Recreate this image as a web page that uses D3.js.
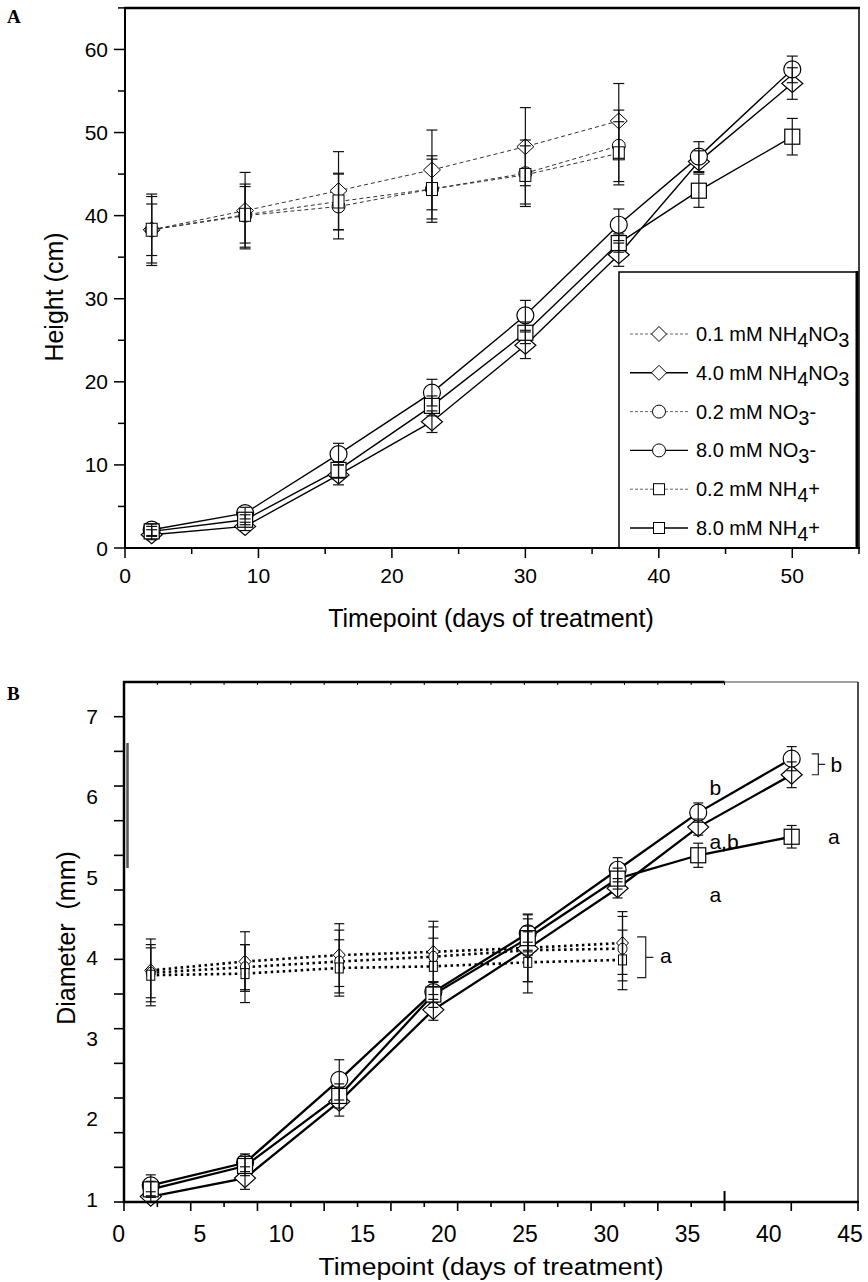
<!DOCTYPE html>
<html><head><meta charset="utf-8">
<script src="https://cdn.jsdelivr.net/npm/d3@7/dist/d3.min.js"></script>
<style>body{margin:0;background:#fff}svg{display:block}text{font-family:"Liberation Sans",Arial,sans-serif;fill:#000}</style>
</head><body><svg id="c" width="868" height="1282"></svg>
<script>
// ---------- DATA ----------
// Panel A: height (cm)
const daysA = [2, 9, 16, 23, 30, 37, 43, 50];
const daysALow = [2, 9, 16, 23, 30, 37];
const hLowNH4NO3 = [38.3, 40.6, 43.0, 45.5, 48.3, 51.4];
const hLowNH4NO3Err = [4.3, 4.6, 4.7, 4.8, 4.7, 4.5];
const hLowNO3 = [38.3, 40.0, 41.1, 43.2, 45.1, 48.4];
const hLowNO3Err = [4.0, 3.8, 3.9, 4.0, 4.0, 4.3];
const hLowNH4 = [38.3, 40.1, 41.7, 43.2, 44.9, 47.5];
const hLowNH4Err = [3.1, 3.4, 3.4, 3.6, 3.5, 3.8];
const hHighNH4NO3 = [1.6, 2.6, 8.8, 15.2, 24.4, 35.3, 46.5, 55.9];
const hHighNH4NO3Err = [0.6, 0.5, 1.2, 1.3, 1.6, 1.4, 1.3, 1.9];
const hHighNO3 = [2.2, 4.2, 11.3, 18.7, 28.0, 38.9, 47.1, 57.6];
const hHighNO3Err = [0.7, 0.7, 1.3, 1.6, 1.8, 1.9, 1.8, 1.6];
const hHighNH4 = [2.0, 3.4, 9.4, 17.1, 25.9, 36.7, 43.0, 49.5];
const hHighNH4Err = [0.6, 0.6, 1.0, 1.2, 1.3, 1.1, 2.0, 2.2];

// Panel B: diameter (mm)
const daysBLow = [1.97, 7.77, 13.57, 19.36, 25.17, 31.0];
const daysBHigh = [1.97, 7.77, 13.57, 19.36, 25.17, 30.7, 35.66, 41.41];
const dLowNH4NO3 = [3.84, 3.95, 4.03, 4.07, 4.12, 4.18];
const dLowNH4NO3Err = [0.39, 0.37, 0.39, 0.38, 0.42, 0.39];
const dLowNO3 = [3.81, 3.88, 3.95, 4.01, 4.09, 4.11];
const dLowNO3Err = [0.31, 0.28, 0.39, 0.37, 0.39, 0.40];
const dLowNH4 = [3.78, 3.80, 3.87, 3.89, 3.94, 3.97];
const dLowNH4Err = [0.38, 0.36, 0.35, 0.35, 0.38, 0.37];
const dHighNH4NO3 = [1.03, 1.26, 2.21, 3.35, 4.11, 4.86, 5.62, 6.27];
const dHighNH4NO3Err = [0.06, 0.14, 0.18, 0.13, 0.08, 0.12, 0.10, 0.16];
const dHighNO3 = [1.17, 1.45, 2.48, 3.57, 4.30, 5.09, 5.80, 6.47];
const dHighNO3Err = [0.13, 0.11, 0.25, 0.13, 0.23, 0.15, 0.12, 0.15];
const dHighNH4 = [1.12, 1.41, 2.28, 3.54, 4.24, 4.98, 5.27, 5.50];
const dHighNH4Err = [0.10, 0.12, 0.15, 0.16, 0.15, 0.13, 0.15, 0.14];

// Tick labels
const xTicksA = [0, 10, 20, 30, 40, 50];
const yTicksA = [0, 10, 20, 30, 40, 50, 60];
const xTicksB = [0, 5, 10, 15, 20, 25, 30, 35, 40, 45];
const yTicksB = [1, 2, 3, 4, 5, 6, 7];

// Legend labels: [text, isSubscript]
const legendLabels = [
  [["0.1 mM NH",0],["4",1],["NO",0],["3",1]],
  [["4.0 mM NH",0],["4",1],["NO",0],["3",1]],
  [["0.2 mM NO",0],["3",1],["-",0]],
  [["8.0 mM NO",0],["3",1],["-",0]],
  [["0.2 mM NH",0],["4",1],["+",0]],
  [["8.0 mM NH",0],["4",1],["+",0]]
];
const legendShapes = ["diamond","diamond","circle","circle","square","square"];
const legendDashed = [true,false,true,false,true,false];

// Significance letters in panel B (day, value)
const lettersB = [
  {t:"b", d:36.35, v:6.11},
  {t:"a,b", d:36.35, v:5.44},
  {t:"a", d:36.35, v:4.78},
  {t:"a", d:43.65, v:5.50},
  {t:"b", d:43.8, v:6.40},
  {t:"a", d:33.3, v:4.02}
];
const bracketsB = [
  {d0:42.64, d1:43.05, v0:6.53, v1:6.27, dt:43.47},
  {d0:31.9, d1:32.43, v0:4.255, v1:3.75, dt:32.9}
];

// ---------- DRAW ----------
const svg = d3.select("#c");
svg.append("rect").attr("width",868).attr("height",1282).attr("fill","#fff");

function marker(g, shape, cx, cy, w, h, sw){
  if(shape==="circle"){
    g.append("ellipse").attr("cx",cx).attr("cy",cy).attr("rx",w/2).attr("ry",h/2)
      .attr("fill","#fff").attr("stroke","#000").attr("stroke-width",sw);
  } else if(shape==="diamond"){
    g.append("path").attr("d",`M${cx},${cy-h/2}L${cx+w/2},${cy}L${cx},${cy+h/2}L${cx-w/2},${cy}Z`)
      .attr("fill","#fff").attr("stroke","#000").attr("stroke-width",sw);
  } else {
    g.append("rect").attr("x",cx-w/2).attr("y",cy-h/2).attr("width",w).attr("height",h)
      .attr("fill","#fff").attr("stroke","#000").attr("stroke-width",sw);
  }
}

function drawSeries(g, x, y, days, vals, errs, st){
  const line = d3.line().x((d,i)=>x(days[i])).y(d=>y(d));
  g.append("path").attr("d",line(vals)).attr("fill","none")
    .attr("stroke",st.color).attr("stroke-width",st.lw)
    .attr("stroke-dasharray",st.dash||null);
  return () => {
    vals.forEach((v,i)=>{
      marker(g, st.shape, x(days[i]), y(v), st.w, st.h, st.msw);
    });
  };
}
function drawErr(g, x, y, days, vals, errs, capW, color){
  vals.forEach((v,i)=>{
    const cx = x(days[i]);
    g.append("line").attr("x1",cx).attr("x2",cx).attr("y1",y(v-errs[i])).attr("y2",y(v+errs[i]))
      .attr("stroke",color).attr("stroke-width",1.2);
    [v-errs[i], v+errs[i]].forEach(e=>{
      g.append("line").attr("x1",cx-capW/2).attr("x2",cx+capW/2).attr("y1",y(e)).attr("y2",y(e))
        .attr("stroke",color).attr("stroke-width",1.2);
    });
  });
}

// ===== Panel A =====
const xA = d3.scaleLinear().domain([0,55]).range([125,859]);
const yA = d3.scaleLinear().domain([0,65]).range([548,7.9]);
const gA = svg.append("g");

// frame
gA.append("line").attr("x1",124).attr("x2",860).attr("y1",yA(65)).attr("y2",yA(65)).attr("stroke","#000").attr("stroke-width",2.5);
gA.append("line").attr("x1",xA(55)).attr("x2",xA(55)).attr("y1",yA(65)).attr("y2",yA(0)).attr("stroke","#000").attr("stroke-width",1.5);

// data
const seriesA = [
  {days:daysALow, v:hLowNH4NO3, e:hLowNH4NO3Err, st:{shape:"diamond",w:17,h:16,color:"#333",lw:1,dash:"4,3",msw:1}},
  {days:daysALow, v:hLowNO3, e:hLowNO3Err, st:{shape:"circle",w:13,h:13,color:"#333",lw:1,dash:"4,3",msw:1}},
  {days:daysALow, v:hLowNH4, e:hLowNH4Err, st:{shape:"square",w:11,h:13,color:"#333",lw:1,dash:"4,3",msw:1}},
  {days:daysA, v:hHighNH4NO3, e:hHighNH4NO3Err, st:{shape:"diamond",w:21,h:18,color:"#000",lw:1.4,msw:1.2}},
  {days:daysA, v:hHighNO3, e:hHighNO3Err, st:{shape:"circle",w:17,h:17,color:"#000",lw:1.4,msw:1.2}},
  {days:daysA, v:hHighNH4, e:hHighNH4Err, st:{shape:"square",w:15,h:15,color:"#000",lw:1.4,msw:1.2}}
];
const mkA = seriesA.map(s=>drawSeries(gA, xA, yA, s.days, s.v, s.e, s.st));
mkA.forEach(f=>f());
seriesA.forEach(s=>drawErr(gA, xA, yA, s.days, s.v, s.e, 11, "#111"));

// legend
const lg = gA.append("g");
lg.append("rect").attr("x",619).attr("y",272).attr("width",238).attr("height",276)
  .attr("fill","#fff").attr("stroke","#000").attr("stroke-width",1.5);
lg.append("line").attr("x1",857).attr("x2",857).attr("y1",271).attr("y2",548).attr("stroke","#000").attr("stroke-width",3);
const legY = d3.scaleLinear().domain([0,5]).range([334,528]);
legendLabels.forEach((parts,i)=>{
  const cy = legY(i);
  lg.append("line").attr("x1",630).attr("x2",688).attr("y1",cy).attr("y2",cy)
    .attr("stroke",legendDashed[i]?"#666":"#000").attr("stroke-width",legendDashed[i]?1:1.4)
    .attr("stroke-dasharray",legendDashed[i]?"3,2":null);
  const sh = legendShapes[i];
  const sz = sh==="diamond"?[15,15]:sh==="circle"?[13,13]:[11,11];
  marker(lg, sh, 659, cy, sz[0], sz[1], 1);
  const t = lg.append("text").attr("x",696).attr("y",cy+7).attr("font-size",20);
  parts.forEach(p=>{
    if(p[1]) t.append("tspan").attr("font-size",20).attr("dy",6).text(p[0]);
    else {
      const ts = t.append("tspan").text(p[0]);
      if(t.selectAll("tspan").size()>1) ts.attr("dy",-6);
    }
  });
});

// axes A
gA.append("line").attr("x1",xA(0)).attr("x2",xA(0)).attr("y1",yA(65)-1).attr("y2",yA(0)+1).attr("stroke","#000").attr("stroke-width",2);
gA.append("line").attr("x1",xA(0)-1).attr("x2",xA(55)+1).attr("y1",yA(0)).attr("y2",yA(0)).attr("stroke","#000").attr("stroke-width",2);
d3.range(0,66,5).forEach(v=>{
  const maj = v%10===0;
  gA.append("line").attr("x1",xA(0)).attr("x2",xA(0)-(maj?11:7)).attr("y1",yA(v)).attr("y2",yA(v)).attr("stroke","#000").attr("stroke-width",1.5);
});
d3.range(0,56,5).forEach(v=>{
  const maj = v%10===0;
  gA.append("line").attr("x1",xA(v)).attr("x2",xA(v)).attr("y1",yA(0)).attr("y2",yA(0)+(maj?10:6)).attr("stroke","#000").attr("stroke-width",1.5);
});
yTicksA.forEach(v=>{
  gA.append("text").attr("x",108).attr("y",yA(v)).attr("dy","0.36em").attr("text-anchor","end").attr("font-size",21).text(v);
});
xTicksA.forEach(v=>{
  gA.append("text").attr("x",xA(v)).attr("y",583).attr("text-anchor","middle").attr("font-size",21).text(v);
});
gA.append("text").attr("x",491).attr("y",627).attr("text-anchor","middle").attr("font-size",25).text("Timepoint (days of treatment)");
gA.append("text").attr("transform","translate(63,297) rotate(-90)").attr("text-anchor","middle").attr("font-size",25).text("Height (cm)");
svg.append("text").attr("x",7).attr("y",23).attr("font-size",19).attr("font-weight","bold")
  .style("font-family","'Liberation Serif','Times New Roman',serif").text("A");

// ===== Panel B =====
const xB = d3.scaleLinear().domain([0,45]).range([118.75,850]);   // label/data scale
const yB = d3.scaleLinear().domain([1,7]).range([1199,716]);
const xBt = d3.scaleLinear().domain([0,55]).range([124,858]);     // tick scale
const yBt = d3.scaleLinear().domain([0,7]).range([1202,716.7]);
const gB = svg.append("g");

// frame
gB.append("line").attr("x1",123).attr("x2",xBt(45)).attr("y1",682).attr("y2",682).attr("stroke","#000").attr("stroke-width",2.5);
gB.append("line").attr("x1",xBt(45)).attr("x2",xBt(55)).attr("y1",682).attr("y2",682).attr("stroke","#444").attr("stroke-width",1.2);
gB.append("line").attr("x1",xBt(55)).attr("x2",xBt(55)).attr("y1",682).attr("y2",1202).attr("stroke","#222").attr("stroke-width",1.6);
d3.range(2.5,45.1,2.5).forEach(v=>{
  gB.append("line").attr("x1",xBt(v)).attr("x2",xBt(v)).attr("y1",682).attr("y2",685).attr("stroke","#000").attr("stroke-width",1);
});
gB.append("line").attr("x1",127.5).attr("x2",127.5).attr("y1",743).attr("y2",868).attr("stroke","#555").attr("stroke-width",2.5);

const seriesB = [
  {days:daysBLow, v:dLowNH4NO3, e:dLowNH4NO3Err, st:{shape:"diamond",w:12,h:13,color:"#000",lw:2.6,dash:"2.5,3.5",msw:1}},
  {days:daysBLow, v:dLowNO3, e:dLowNO3Err, st:{shape:"circle",w:9,h:11,color:"#000",lw:2.6,dash:"2.5,3.5",msw:1}},
  {days:daysBLow, v:dLowNH4, e:dLowNH4Err, st:{shape:"square",w:8,h:10,color:"#000",lw:2.6,dash:"2.5,3.5",msw:1}},
  {days:daysBHigh, v:dHighNH4NO3, e:dHighNH4NO3Err, st:{shape:"diamond",w:21,h:19,color:"#000",lw:2.3,msw:1.2}},
  {days:daysBHigh, v:dHighNO3, e:dHighNO3Err, st:{shape:"circle",w:17,h:17,color:"#000",lw:2.3,msw:1.2}},
  {days:daysBHigh, v:dHighNH4, e:dHighNH4Err, st:{shape:"square",w:15,h:15,color:"#000",lw:2.3,msw:1.2}}
];
const mkB = seriesB.map(s=>drawSeries(gB, xB, yB, s.days, s.v, s.e, s.st));
mkB.forEach(f=>f());
seriesB.forEach(s=>drawErr(gB, xB, yB, s.days, s.v, s.e, 10, "#111"));

// axes B
gB.append("line").attr("x1",124).attr("x2",124).attr("y1",681).attr("y2",1203).attr("stroke","#000").attr("stroke-width",2.5);
gB.append("line").attr("x1",123).attr("x2",xBt(55)+1).attr("y1",1202).attr("y2",1202).attr("stroke","#000").attr("stroke-width",2.5);
d3.range(0,7.01,0.5).forEach(v=>{
  gB.append("line").attr("x1",124).attr("x2",114).attr("y1",yBt(v)).attr("y2",yBt(v)).attr("stroke","#000").attr("stroke-width",1.6);
});
d3.range(0,45.1,2.5).concat([50,55]).forEach(v=>{
  const maj = v%5===0;
  if(v===45){
    gB.append("line").attr("x1",xBt(v)).attr("x2",xBt(v)).attr("y1",1191).attr("y2",1211).attr("stroke","#000").attr("stroke-width",2);
  } else {
    gB.append("line").attr("x1",xBt(v)).attr("x2",xBt(v)).attr("y1",1202).attr("y2",1202+(maj?9:5)).attr("stroke","#000").attr("stroke-width",1.6);
  }
});
yTicksB.forEach(v=>{
  gB.append("text").attr("x",98).attr("y",yB(v)).attr("dy","0.36em").attr("text-anchor","end").attr("font-size",21).text(v);
});
xTicksB.forEach(v=>{
  gB.append("text").attr("x",xB(v)).attr("y",1242).attr("text-anchor","middle").attr("font-size",23).text(v);
});
gB.append("text").attr("x",491).attr("y",1275).attr("text-anchor","middle").attr("font-size",23)
  .attr("textLength",345).attr("lengthAdjust","spacingAndGlyphs").text("Timepoint (days of treatment)");
gB.append("text").attr("transform","translate(75,938) rotate(-90)").attr("text-anchor","middle").attr("font-size",25)
  .style("white-space","pre").text("Diameter  (mm)");
svg.append("text").attr("x",7).attr("y",700).attr("font-size",19).attr("font-weight","bold")
  .style("font-family","'Liberation Serif','Times New Roman',serif").text("B");

// significance letters and brackets
lettersB.forEach(l=>{
  gB.append("text").attr("x",xB(l.d)).attr("y",yB(l.v)).attr("dy","0.36em").attr("font-size",21).text(l.t);
});
bracketsB.forEach(b=>{
  gB.append("path").attr("d",`M${xB(b.d0)},${yB(b.v0)}H${xB(b.d1)}V${yB(b.v1)}H${xB(b.d0)}M${xB(b.d1)},${(yB(b.v0)+yB(b.v1))/2}H${xB(b.dt)}`)
    .attr("fill","none").attr("stroke","#222").attr("stroke-width",1.2);
});
</script></body></html>
